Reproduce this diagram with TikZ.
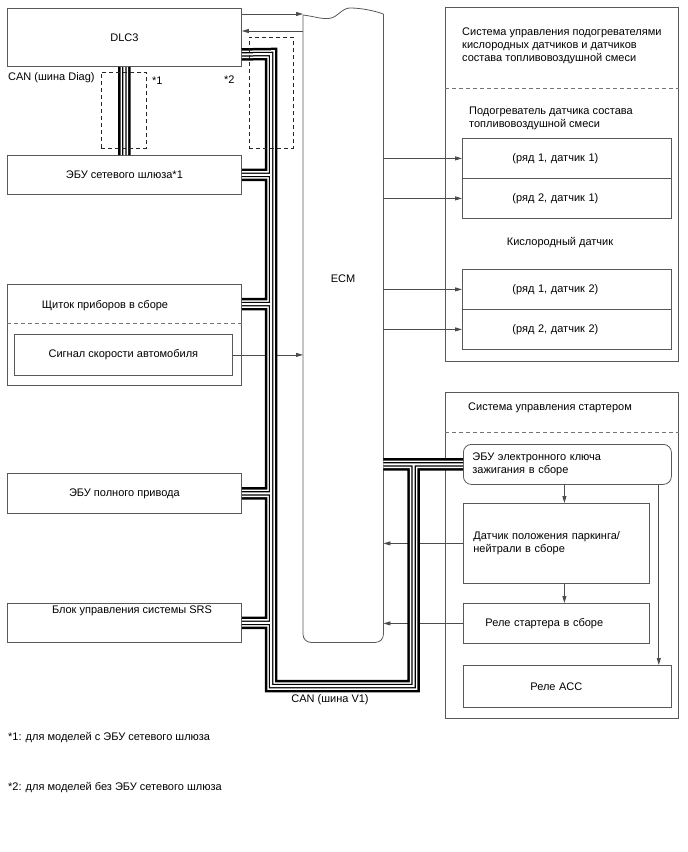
\documentclass[tikz,border=0pt]{standalone}
\usepackage{fontspec}
\setmainfont{Liberation Sans}
\usetikzlibrary{positioning,arrows.meta,calc}

\begin{document}
\begin{tikzpicture}[x=1pt,y=-1pt,font=\fontsize{11}{13}\selectfont,
  box/.style={draw=black!65,line width=.8pt,inner sep=0pt,anchor=north west},
  sbox/.style={box,minimum width=209pt,minimum height=40pt,text width=109pt,align=left},
  sig/.style={draw=black!70,line width=.8pt,-{Triangle[length=7pt,width=4pt]}},
  sep/.style={draw=black!55,line width=.8pt,dash pattern=on 4pt off 3pt},
  opt/.style={box,draw=black!85,dash pattern=on 4pt off 3pt},
  txt/.style={inner sep=0pt,anchor=west,align=left}]
\useasboundingbox (0,0) rectangle (688,852);
% left column
\node[box,minimum width=234pt,minimum height=58pt] (dlc) at (7,8) {DLC3};
\node[box,minimum width=234pt,minimum height=39pt] (gw) at (7,155) {ЭБУ сетевого шлюза*1};
\node[box,minimum width=234pt,minimum height=101pt] (cl) at (7,284) {};
\node[txt,anchor=center] (clt) at (105,306) {Щиток приборов в сборе};
\draw[sep] ([yshift=-39pt]cl.north west) -- ([yshift=-39pt]cl.north east);
\node[box,minimum width=218pt,minimum height=41pt] (spd) at (14,334) {Сигнал скорости автомобиля};
\node[box,minimum width=234pt,minimum height=40pt] (awd) at (7,473) {ЭБУ полного привода};
\node[box,minimum width=234pt,minimum height=39pt] (srs) at (7,603) {};
\node[txt,anchor=center] (srst) at (132,611) {Блок управления системы SRS};
% ECM with torn top edge
\node[minimum width=80pt,minimum height=628pt,inner sep=0pt,anchor=north west] (ecm) at (303,14) {};
\node (ecmt) at (343,279) {ECM};
\draw[black!65,line width=.8pt,rounded corners=8pt] (ecm.north east) -- (ecm.south east) -- (ecm.south west) -- ([yshift=-1pt]ecm.north west);
\draw[black!65,line width=.8pt] ([yshift=-1pt]ecm.north west) .. controls (315,16.5) and (322,19.5) .. (330,18.3)
  .. controls (338,17) and (342,8) .. (350,8) .. controls (362,8) and (375,11) .. (ecm.north east);
% heater control
\node[box,minimum width=233pt,minimum height=354pt] (heat) at (445,7) {};
\node[txt] (heatt) at (462,46) {Система управления подогревателями\\кислородных датчиков и датчиков\\состава топливовоздушной смеси};
\draw[sep] ([yshift=-81pt]heat.north west) -- ([yshift=-81pt]heat.north east);
\node[txt] (aft) at (469,118) {Подогреватель датчика состава\\топливовоздушной смеси};
\node (oxt) at (560,243) {Кислородный датчик};
\foreach \n/\y/\t in {{h11/138/(ряд 1, датчик 1)},{h21/178/(ряд 2, датчик 1)},{h12/269/(ряд 1, датчик 2)},{h22/309/(ряд 2, датчик 2)}}
  \node[sbox] (\n) at (462,\y) {\t};
% starter control
\node[box,minimum width=233pt,minimum height=326pt] (st) at (445,392) {};
\node[txt] (stt) at (468,408) {Система управления стартером};
\draw[sep] ([yshift=-40pt]st.north west) -- ([yshift=-40pt]st.north east);
\node[box,rounded corners=8pt,minimum width=208pt,minimum height=40pt,text width=190pt,align=left] (key) at (463,444) {ЭБУ электронного ключа\\зажигания в сборе};
\node[box,minimum width=186pt,minimum height=80pt,text width=166pt,align=left] (pn) at (463,503) {Датчик положения паркинга/\\нейтрали в сборе};
\node[box,minimum width=186pt,minimum height=40pt,text width=142pt,align=left] (rel) at (463,603) {Реле стартера в сборе};
\node[box,minimum width=208pt,minimum height=42pt,text width=74pt,align=left] (acc) at (463,665) {Реле АСС};
% signal lines
\draw[sig] ([yshift=-6pt]dlc.north east) -- ([yshift=-6pt]dlc.north east -| ecm.west);
\draw[sig] ([yshift=-23pt]dlc.north east -| ecm.west) -- ([yshift=-23pt]dlc.north east);
\draw[sig] (spd.east) -- (spd.east -| ecm.west);
\foreach \n in {h11,h21,h12,h22} \draw[sig] (\n.west -| ecm.east) -- (\n.west);
\draw[sig] (pn.west) -- (pn.west -| ecm.east);
\draw[sig] (rel.west) -- (rel.west -| ecm.east);
\draw[sig] ([xshift=8pt]pn.north |- key.south) -- ([xshift=8pt]pn.north);
\draw[sig] ([xshift=8pt]pn.south) -- ([xshift=8pt]pn.south |- rel.north);
\draw[sig] ([xshift=-13pt]key.south east) -- ([xshift=-13pt]key.south east |- acc.north);
% CAN buses, drawn in layers
\coordinate (tl) at (271,54);
\coordinate (bl) at (271,686);
\coordinate (br) at (413.5,686);
\def\canbus{([yshift=-17pt]dlc.east) -- (tl) -- (bl) -- (br) -- (br |- key.west)
  (ecm.east |- key.west) -- (key.west)
  (gw.east) -- (gw.east -| tl)
  ([yshift=-20pt]cl.north east) -- ([yshift=-20pt]cl.north east -| tl)
  (awd.east) -- (awd.east -| tl)
  (srs.east) -- (srs.east -| tl)
  (dlc.south) -- (gw.north)}
\foreach \w/\c in {12.5/black,7.5/white,4.5/black,2/white}{\draw[line width=\w pt,\c] \canbus;}
\node[opt,minimum width=45pt,minimum height=76pt] (o1) at (101,72) {};
\node[opt,minimum width=44pt,minimum height=111pt] (o2) at (249,37) {};
\node[txt] (cand) at (8,78) {CAN (шина Diag)};
\node[txt] (n1) at (152,81) {*1};
\node[txt] (n2) at (224,80) {*2};
\node (canv) at (330,700) {CAN (шина V1)};
\node[txt] (f1) at (8,738) {*1: для моделей с ЭБУ сетевого шлюза};
\node[txt] (f2) at (8,788) {*2: для моделей без ЭБУ сетевого шлюза};
\end{tikzpicture}
\end{document}
